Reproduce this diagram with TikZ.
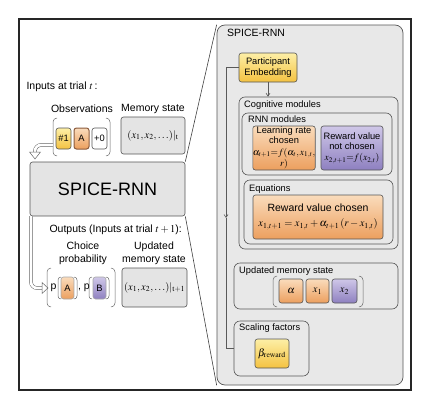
\documentclass[tikz,border=0pt]{standalone}
\usepackage{mathptmx}
\usepackage{fontspec}
\setmainfont{Liberation Sans}
\usetikzlibrary{arrows.meta}
\newcommand\fA{\fontsize{9.3}{10.2}\selectfont}
\newcommand\fB{\fontsize{10.5}{13}\selectfont}
\newcommand\fC{\fontsize{18}{21}\selectfont}
\newcommand\fM{\fontsize{9.6}{10.2}\selectfont}
\definecolor{bord}{HTML}{555555}
\definecolor{panelfill}{HTML}{E8E8E8}
\definecolor{boxgray}{HTML}{E4E4E4}
\definecolor{ylight}{HTML}{FDEFA6}
\definecolor{ydark}{HTML}{F4C241}
\definecolor{olight}{HTML}{FADCBC}
\definecolor{odark}{HTML}{EC9F5E}
\definecolor{plight}{HTML}{CFC7E8}
\definecolor{pdark}{HTML}{8E80C0}
\definecolor{abord}{HTML}{8B5A3C}
\begin{document}
\begin{tikzpicture}[x=1pt,y=-1pt,
  every node/.style={font=\fA, text=black},
  cbox/.style={draw=bord, line width=0.6pt, rounded corners=2.5pt, inner sep=1pt, align=center},
  ybox/.style={cbox, top color=ylight, bottom color=ydark},
  obox/.style={cbox, top color=olight, bottom color=odark},
  pbox/.style={cbox, top color=plight, bottom color=pdark},
  gbox/.style={cbox, fill=boxgray},
  group/.style={draw=bord, line width=0.6pt, rounded corners=6pt, inner sep=0pt},
  grouptitle/.style={anchor=west, inner sep=0pt},
  paren/.style={draw=black!60, line width=0.5pt, rounded corners=4pt},
  zoomline/.style={draw=black!75, line width=0.6pt},
  hollow/.style={draw=black!60, double=white, double distance=2.6pt, line width=0.5pt, rounded corners=6pt},
  headtri/.style={draw=black!60, fill=white, line width=0.5pt, line join=miter},
  thinline/.style={draw=black!65, line width=0.6pt}
]
\useasboundingbox (0,0) rectangle (433,415);
% outer frame
\draw[line width=1.3pt, draw=black!85] (19,19) rectangle (411,390);

% ---------- left side ----------
\node[anchor=west, font=\fB] (inlab) at (23,87) {Inputs at trial $t$\,:};
\node[font=\fB] (obslab) at (82,109) {Observations};
\node[font=\fB] (memlab) at (153,109) {Memory state};

\draw[paren] (57,118) -- (53,118) -- (53,156) -- (57,156);
\draw[paren] (106,118) -- (110,118) -- (110,156) -- (106,156);
\node[ybox, minimum width=15pt, minimum height=21pt] (o1) at (63.5,138.5) {\#1};
\node[obox, draw=abord, line width=1pt, minimum width=15pt, minimum height=21pt] (o2) at (81.5,138.5) {A};
\node[cbox, fill=white, minimum width=15pt, minimum height=21pt] (o3) at (99.5,138.5) {+0};
\coordinate (obsL) at (53,145);

\node[gbox, font=\fB, minimum width=64pt, minimum height=37pt] (mem) at (153,135.5) {$(x_1,x_2,\ldots)|_{\mathrm{t}}$};

\node[gbox, font=\fC, minimum width=155pt, minimum height=54pt] (spice) at (107.5,189) {SPICE-RNN};

% top hollow arrow
\coordinate (ta) at (35,152);
\draw[hollow] (obsL) -| (ta);
\draw[headtri] (29.5,152) -- (40.5,152) -- (35,159) -- cycle;

% bottom hollow arrow
\coordinate (bs) at (31,216);
\coordinate (be) at (42,288);
\draw[hollow] (bs) |- (be);
\draw[headtri] (42,282.5) -- (42,293.5) -- (48,288) -- cycle;

\node[anchor=west, font=\fB] (outlab) at (46,230) {Outputs (Inputs at trial $t+1$):};
\node[font=\fB, align=center] (choicelab) at (83,253.5) {Choice\\probability};
\node[font=\fB, align=center] (updlab) at (154,253.5) {Updated\\memory state};

\draw[paren] (51,268) -- (47,268) -- (47,307) -- (51,307);
\draw[paren] (111,268) -- (115,268) -- (115,307) -- (111,307);
\node[font=\fB, inner sep=0pt] (p1) at (53.5,288) {p};
\draw[paren, rounded corners=3pt] (61,277) -- (58,277) -- (58,299) -- (61,299);
\draw[paren, rounded corners=3pt] (74,277) -- (77,277) -- (77,299) -- (74,299);
\node[obox, draw=black!35, minimum width=13pt, minimum height=22pt] (pa) at (67.5,288) {A};
\node[font=\fB, inner sep=0pt] (p2) at (84,288) {, p};
\draw[paren, rounded corners=3pt] (92,277) -- (89,277) -- (89,299) -- (92,299);
\draw[paren, rounded corners=3pt] (106,277) -- (109,277) -- (109,299) -- (106,299);
\node[pbox, draw=black!35, minimum width=13pt, minimum height=22pt] (pb) at (99.5,288) {B};

\node[gbox, font=\fB, minimum width=65pt, minimum height=39pt] (umem) at (154.5,287.5) {$(x_1,x_2,\ldots)|_{\mathrm{t+1}}$};

% ---------- right panel ----------
\node[draw=bord, fill=panelfill, line width=0.7pt, rounded corners=8pt, minimum width=186pt, minimum height=360pt, inner sep=0pt] (panel) at (310,205) {};
\draw[zoomline] (spice.north east) -- (panel.north west);
\draw[zoomline] (spice.south east) -- (panel.south west);
\node[grouptitle, font=\fB] (ptitle) at (227,33) {SPICE-RNN};

\node[ybox, minimum width=58pt, minimum height=29pt] (emb) at (268,67.5) {Participant\\Embedding};

\node[group, minimum width=159pt, minimum height=152pt] (cog) at (318.5,173) {};
\node[grouptitle] (cogt) at (244,105) {Cognitive modules};
\draw[thinline, -{Straight Barb[length=3pt,width=4pt]}] (emb.south) -- (emb.south |- cog.north);

\node[group, minimum width=150pt, minimum height=62pt] (rnn) at (317,144) {};
\node[grouptitle] (rnnt) at (248,119.5) {RNN modules};
\node[obox, minimum width=62pt, minimum height=44pt, inner sep=0pt, font=\fM] (lr) at (284,148) {\fA Learning rate\\\fA chosen\\[1.5pt]$\alpha_{t+1}{=}f(\alpha_t,x_{1,t},$\\[1.5pt]$r)$};
\node[pbox, minimum width=62pt, minimum height=44pt, inner sep=0pt, font=\fM] (rnc) at (352,148) {\fA Reward value\\\fA not chosen\\[1.5pt]$x_{2,t+1}{=}f(x_{2,t})$};

\node[group, minimum width=149pt, minimum height=64pt] (eqs) at (318.5,212) {};
\node[grouptitle] (eqst) at (249,189) {Equations};
\node[obox, font=\fB, minimum width=130pt, minimum height=44pt] (rvc) at (318,217) {Reward value chosen\\[2pt]$x_{1,t+1}= x_{1,t} + \alpha_{t+1}\,(r - x_{1,t})$};

\node[group, minimum width=164pt, minimum height=46pt] (ums) at (316,286) {};
\node[grouptitle] (umst) at (239,271.5) {Updated memory state};
\draw[paren] (277,276) -- (273,276) -- (273,307) -- (277,307);
\draw[paren] (359,276) -- (363,276) -- (363,307) -- (359,307);
\node[obox, font=\fB, minimum width=24pt, minimum height=24pt] (ua) at (291,291) {$\alpha$};
\node[obox, font=\fB, minimum width=23pt, minimum height=24pt] (ux1) at (317.5,291) {$x_1$};
\node[pbox, font=\fB, minimum width=25pt, minimum height=24pt] (ux2) at (344.5,291) {$x_2$};

\node[group, minimum width=75pt, minimum height=55pt] (scal) at (271.5,348.5) {};
\node[grouptitle] (scalt) at (239,328.5) {Scaling factors};
\node[ybox, font=\fB, minimum width=34pt, minimum height=29pt] (beta) at (272,353.5) {$\beta_{\mathrm{reward}}$};

% embedding line
\coordinate (lt) at (226,218);
\draw[thinline, -{Straight Barb[length=3pt,width=4pt]}] (emb.west) -| (lt);
\draw[thinline] (lt) |- (scal.west);
\end{tikzpicture}
\end{document}
